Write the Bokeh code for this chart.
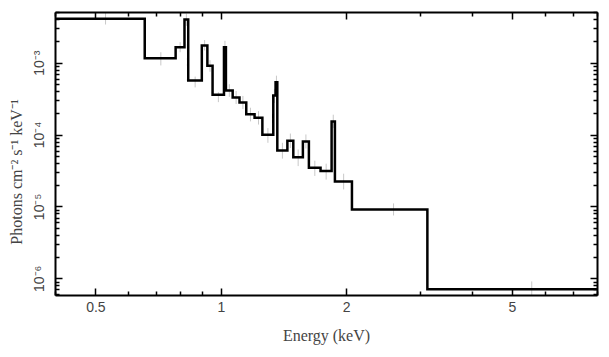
from bokeh.plotting import figure
from bokeh.models import LogAxis, FixedTicker, Range1d, CustomJSTickFormatter, ColumnDataSource
from bokeh.embed import file_html
from bokeh.resources import INLINE

# Bin edges (keV) and unfolded model values (photons cm^-2 s^-1 keV^-1)
edges = [0.40, 0.655, 0.777, 0.816, 0.833, 0.898, 0.926, 0.953, 1.015, 1.026,
         1.065, 1.106, 1.148, 1.202, 1.255, 1.333, 1.350, 1.363, 1.441, 1.489,
         1.570, 1.623, 1.731, 1.840, 1.874, 2.059, 3.124, 8.0]
model = [4.14e-3, 1.17e-3, 1.67e-3, 4.06e-3, 5.75e-4, 1.76e-3, 9.2e-4, 3.63e-4,
         1.67e-3, 4.17e-4, 3.33e-4, 2.84e-4, 1.94e-4, 1.74e-4, 1.01e-4, 3.56e-4,
         5.44e-4, 6.1e-5, 8.3e-5, 4.93e-5, 8.15e-5, 3.5e-5, 3.15e-5, 1.55e-4,
         2.26e-5, 9.23e-6, 7.16e-7]
# Data error bar ends
data_lo = [3.45e-3, 9.3e-4, 1.42e-3, 3.3e-3, 4.6e-4, 1.5e-3, 7.6e-4, 2.87e-4,
           1.4e-3, 3.4e-4, 2.7e-4, 2.3e-4, 1.55e-4, 1.4e-4, 7.8e-5, 2.8e-4,
           4.4e-4, 4.7e-5, 6.6e-5, 3.7e-5, 6.5e-5, 2.7e-5, 2.4e-5, 1.25e-4,
           1.75e-5, 7.6e-6, 5.6e-7]
data_hi = [5.4e-3, 1.42e-3, 1.96e-3, 4.9e-3, 6.5e-4, 2.1e-3, 1.1e-3, 3.95e-4,
           2.05e-3, 5.1e-4, 4.1e-4, 3.5e-4, 2.4e-4, 2.15e-4, 1.25e-4, 4.4e-4,
           6.7e-4, 7.8e-5, 1.05e-4, 6.3e-5, 1.02e-4, 4.4e-5, 4.0e-5, 1.92e-4,
           2.9e-5, 1.12e-5, 9.2e-7]

x_major = [0.5, 1, 2, 5]
x_labels = ["0.5", "1", "2", "5"]
x_minor = [0.4, 0.6, 0.7, 0.8, 0.9, 3, 4, 6, 7, 8]
y_major = [1e-6, 1e-5, 1e-4, 1e-3]
y_labels = ["10\u207b\u2076", "10\u207b\u2075", "10\u207b\u2074", "10\u207b\u00b3"]
y_minor = [k * d for d in [1e-7, 1e-6, 1e-5, 1e-4, 1e-3] for k in range(2, 10)]

centers = [(a + b) / 2 for a, b in zip(edges[:-1], edges[1:])]

p = figure(width=609, height=357, x_axis_type="log", y_axis_type="log",
           x_range=Range1d(0.4, 8.0), y_range=Range1d(5.86e-7, 5.07e-3),
           output_backend="svg", toolbar_location=None,
           min_border_left=55, min_border_right=12, min_border_top=12,
           min_border_bottom=62)
p.grid.visible = False
p.outline_line_color = None
p.background_fill_color = "white"
p.border_fill_color = "white"

err = ColumnDataSource(dict(x=centers, lo=data_lo, hi=data_hi))
p.segment(x0="x", y0="lo", x1="x", y1="hi", source=err, line_color="#c8c8c8", line_width=1)

p.step(x=edges, y=model + [model[-1]], mode="after", line_color="black",
       line_width=2.5, line_join="miter")

def fmt(vals, labs):
    return CustomJSTickFormatter(args=dict(vals=vals, labs=labs), code="""
        for (let i = 0; i < vals.length; i++) {
            if (Math.abs(Math.log10(tick) - Math.log10(vals[i])) < 1e-6) return labs[i];
        }
        return "";
    """)

xt = FixedTicker(ticks=x_major, minor_ticks=x_minor)
yt = FixedTicker(ticks=y_major, minor_ticks=y_minor)

def style(ax):
    ax.axis_line_width = 2
    ax.axis_line_color = "black"
    ax.major_tick_in = 7
    ax.major_tick_out = 0
    ax.minor_tick_in = 4
    ax.minor_tick_out = 0
    ax.major_tick_line_width = 1.5
    ax.minor_tick_line_width = 1.5
    ax.major_tick_line_color = "black"
    ax.minor_tick_line_color = "black"

xa = p.xaxis[0]
xa.ticker = xt
xa.formatter = fmt(x_major, x_labels)
style(xa)
xa.major_label_text_font = "Liberation Sans"
xa.major_label_text_font_size = "14px"
xa.major_label_standoff = 6
xa.axis_label = "Energy (keV)"
xa.axis_label_text_font = "Liberation Serif"
xa.axis_label_text_font_size = "16px"
xa.axis_label_text_font_style = "normal"
xa.axis_label_standoff = 12

ya = p.yaxis[0]
ya.ticker = yt
ya.formatter = fmt(y_major, y_labels)
style(ya)
ya.major_label_text_font = "Liberation Sans"
ya.major_label_text_font_size = "14px"
ya.major_label_orientation = "vertical"
ya.major_label_standoff = 8
ya.axis_label = "Photons cm\u207b\u00b2 s\u207b\u00b9 keV\u207b\u00b9" + "\u00a0" * 9
ya.axis_label_text_font = "Liberation Serif"
ya.axis_label_text_font_size = "16px"
ya.axis_label_text_font_style = "normal"
ya.axis_label_standoff = 4

def mirror(ticker):
    ax = LogAxis(ticker=ticker, formatter=fmt([1e9], [""]))
    style(ax)
    ax.major_label_text_font_size = "1px"
    ax.major_label_text_color = None
    ax.major_label_text_alpha = 0
    ax.major_label_standoff = 0
    return ax

p.add_layout(mirror(xt), "above")
p.add_layout(mirror(yt), "right")

open("out.html", "w").write(file_html(p, INLINE))
